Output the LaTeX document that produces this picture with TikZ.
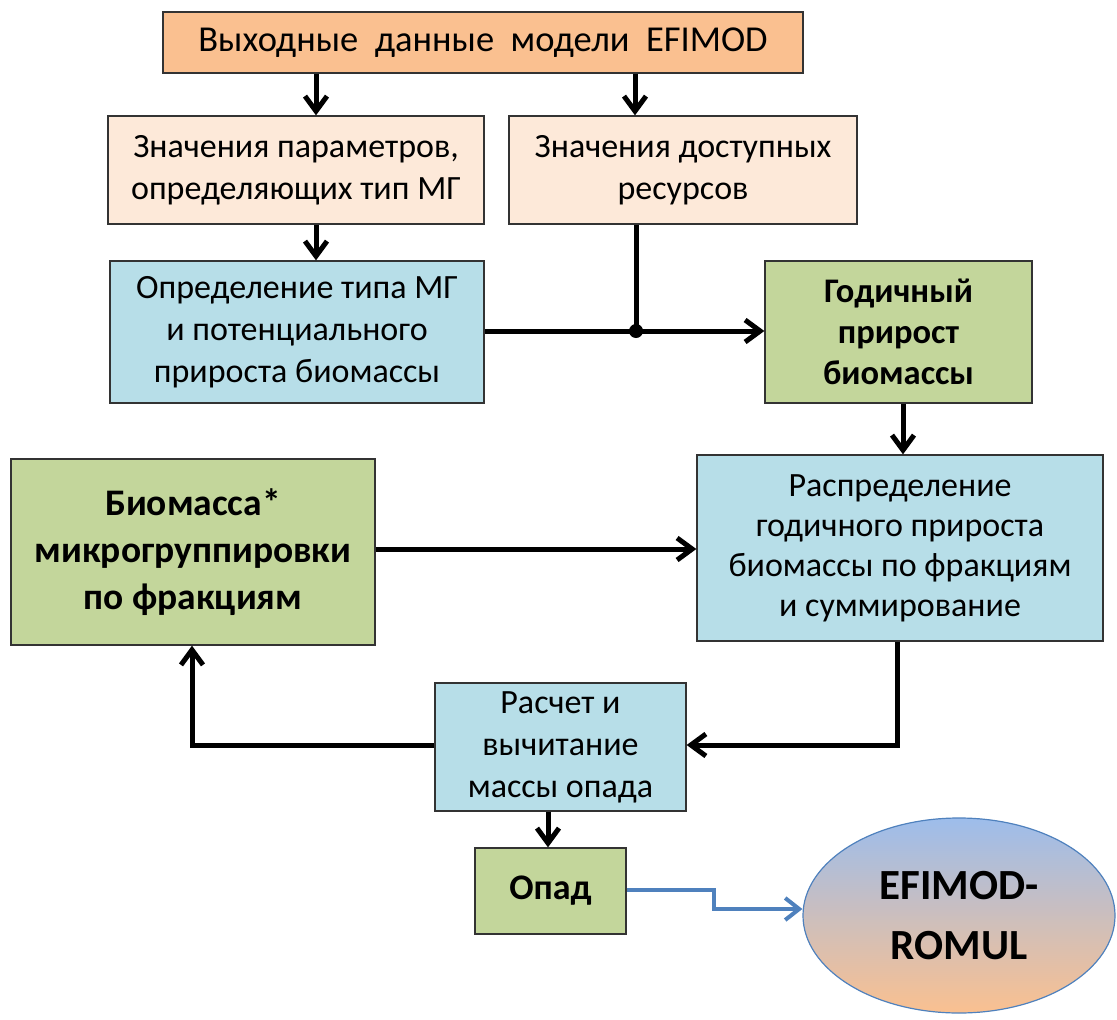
\documentclass[tikz,border=0pt]{standalone}
\usepackage{fontspec}
\setmainfont{Carlito}
\usetikzlibrary{arrows.meta,shapes.geometric}
\definecolor{corange}{HTML}{FAC090}
\definecolor{cpeach}{HTML}{FDE9D9}
\definecolor{cblue}{HTML}{B7DEE8}
\definecolor{cgreen}{HTML}{C3D69B}
\definecolor{cell}{HTML}{9DBDEB}
\definecolor{carrow}{HTML}{4F81BD}
\begin{document}
\begin{tikzpicture}[x=1pt,y=-1pt,
  box/.style={draw=black!80, line width=1.3pt, align=center, inner sep=0pt, font=\fontsize{34}{42}\selectfont},
  boldbox/.style={box, font=\fontsize{34.5}{41}\selectfont\bfseries},
  link/.style={line width=5pt, draw=black},
  arr/.style={link, -{Straight Barb[length=15pt,width=22pt]}},
  barr/.style={line width=4pt, draw=carrow, -{Straight Barb[length=14pt,width=22pt]}}
]
\useasboundingbox (0,0) rectangle (1117,1020);

\node[box, fill=corange, minimum width=640pt, minimum height=61pt, font=\fontsize{36.5}{41}\selectfont] (top) at (483,42.5) {Выходные\ \ данные\ \ модели\ \ EFIMOD};
\node[box, fill=cpeach, minimum width=376pt, minimum height=108pt] (params) at (296,170) {Значения параметров,\\определяющих тип МГ};
\node[box, fill=cpeach, minimum width=348pt, minimum height=108pt] (res) at (683,170) {Значения доступных\\ресурсов};
\node[box, fill=cblue, minimum width=374pt, minimum height=142pt] (det) at (297,332) {Определение типа МГ\\и потенциального\\прироста биомассы};
\node[boldbox, fill=cgreen, minimum width=267pt, minimum height=142pt] (grow) at (898.5,332) {Годичный\\прирост\\биомассы};
\node[boldbox, fill=cgreen, minimum width=364pt, minimum height=186pt, font=\fontsize{37.5}{47}\selectfont\bfseries] (bio) at (193,552) {Биомасса*\\микрогруппировки\\по фракциям};
\node[box, fill=cblue, minimum width=406pt, minimum height=186pt, font=\fontsize{34}{40}\selectfont] (dist) at (900,548) {Распределение\\годичного прироста\\биомассы по фракциям\\и суммирование};
\node[box, fill=cblue, minimum width=251pt, minimum height=128pt] (calc) at (560.5,747) {Расчет и\\вычитание\\массы опада};
\node[boldbox, fill=cgreen, minimum width=151pt, minimum height=86pt, font=\fontsize{36}{41}\selectfont\bfseries] (opad) at (550.5,891) {Опад};
\node[ellipse, draw=carrow, line width=1.2pt, top color=cell, bottom color=corange, minimum width=312pt, minimum height=195pt, inner sep=0pt, align=center, font=\fontsize{43}{60}\selectfont\bfseries] (ell) at (959,915.5) {EFIMOD-\\ROMUL};

\coordinate (xa) at (316,0);
\coordinate (xb) at (635,0);
\coordinate (j) at (636,331);
\coordinate (xc) at (903,0);
\coordinate (yb) at (0,549);
\coordinate (xd) at (897,0);
\coordinate (yc) at (0,745);
\coordinate (xe) at (192,0);
\coordinate (xf) at (548,0);
\coordinate (yo1) at (0,890);
\coordinate (xg) at (714,0);
\coordinate (yo2) at (0,909);

\draw[arr] (xa |- top.south) -- (xa |- params.north);
\draw[arr] (xb |- top.south) -- (xb |- res.north);
\draw[arr] (xa |- params.south) -- (xa |- det.north);
\draw[link] (j |- res.south) -- (j);
\draw[arr] (det.east |- j) -- (grow.west |- j);
\fill (j) circle (7pt);
\draw[arr] (xc |- grow.south) -- (xc |- dist.north);
\draw[arr] (bio.east |- yb) -- (dist.west |- yb);
\draw[arr] (xd |- dist.south) |- (calc.east |- yc);
\draw[arr] (calc.west |- yc) -| (xe |- bio.south);
\draw[arr] (xf |- calc.south) -- (xf |- opad.north);
\draw[barr] (opad.east |- yo1) -- (xg |- yo1) |- (ell.west |- yo2);
\end{tikzpicture}
\end{document}
